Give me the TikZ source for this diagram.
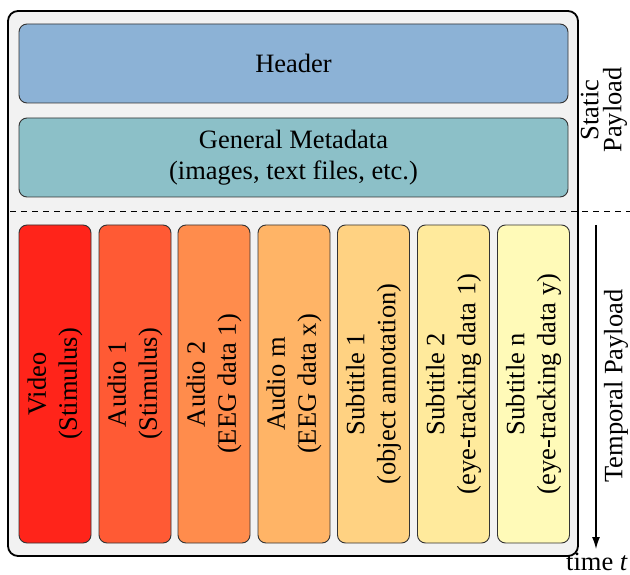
\documentclass[tikz,border=0pt]{standalone}
\usepackage{fontspec}
\setmainfont{Liberation Serif}
\usetikzlibrary{arrows.meta}
\definecolor{outerfill}{RGB}{242,242,242}
\definecolor{hdrfill}{RGB}{140,178,214}
\definecolor{metafill}{RGB}{140,192,200}
\definecolor{cA}{RGB}{255,36,26}
\definecolor{cB}{RGB}{255,90,52}
\definecolor{cC}{RGB}{255,140,76}
\definecolor{cD}{RGB}{255,180,102}
\definecolor{cE}{RGB}{255,210,130}
\definecolor{cF}{RGB}{255,234,156}
\definecolor{cG}{RGB}{255,250,184}
\tikzset{
  box/.style={draw=black!80, line width=0.9pt, rounded corners=8pt, inner sep=0pt},
  rowbox/.style={box, minimum width=549pt, minimum height=79pt, align=center},
  colbox/.style={box, minimum width=72pt, minimum height=318pt},
  coltext/.style={rotate=90, align=center, inner sep=0pt},
}
\begin{document}
\begin{tikzpicture}[x=1pt,y=-1pt, font=\fontsize{26.5}{31}\selectfont]
\useasboundingbox (0,0) rectangle (630,575);
\node[draw=black, line width=1.8pt, fill=outerfill, rounded corners=10pt, minimum width=570pt, minimum height=545pt, inner sep=0pt] (outer) at (293,283.5) {};
\node[rowbox, fill=hdrfill] (header) at (293.5,63.5) {Header};
\node[rowbox, fill=metafill] (meta) at (293.5,157.5) {General Metadata\\(images, text files, etc.)};
\coordinate (dl) at (10,211);
\coordinate (dr) at (630,211);
\draw[dash pattern=on 6pt off 5pt, line width=0.7pt] (dl) -- (dr);
\foreach \i/\x/\c/\t in {1/55/cA/{Video\\(Stimulus)},
  2/135/cB/{Audio 1\\(Stimulus)},
  3/214/cC/{Audio 2\\(EEG data 1)},
  4/294/cD/{Audio m\\(EEG data x)},
  5/373.5/cE/{Subtitle 1\\(object annotation)},
  6/453.5/cF/{Subtitle 2\\(eye-tracking data 1)},
  7/533.5/cG/{Subtitle n\\(eye-tracking data y)}}{
  \node[colbox, fill=\c] (col\i) at (\x,384) {};
  \node[coltext] (txt\i) at (col\i.center) {\t};
}
\node[coltext, font=\fontsize{26.5}{23}\selectfont] (static) at (604,110) {Static\\Payload};
\node[coltext] (temporal) at (616,386) {Temporal Payload};
\coordinate (ta) at (596,225);
\node[inner sep=0pt, anchor=base] (time) at (597,570) {time \textit{t}};
\coordinate (tb) at (596,549);
\draw[-{Latex[length=12pt,width=8pt]}, line width=1.3pt] (ta) -- (tb);
\end{tikzpicture}
\end{document}
